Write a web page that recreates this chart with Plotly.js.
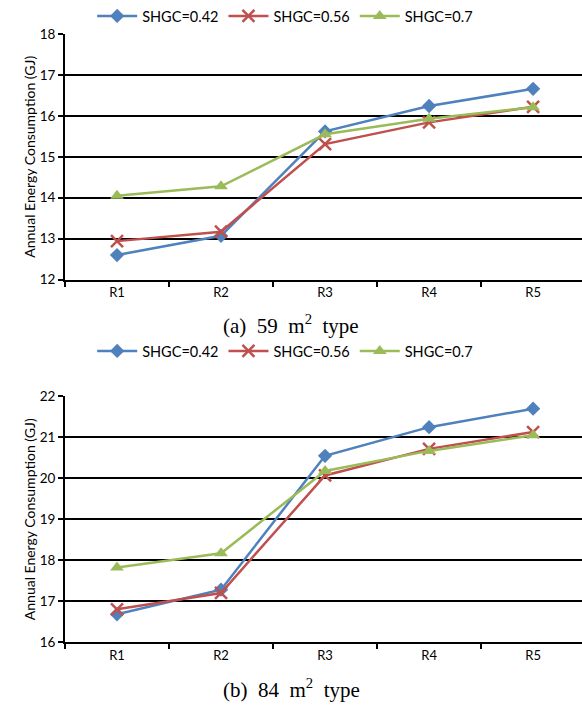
<!DOCTYPE html>
<html><head><meta charset="utf-8">
<script src="https://cdn.plot.ly/plotly-3.0.1.min.js"></script>
<style>html,body{margin:0;padding:0;overflow:hidden;background:#fff}</style>
</head><body>
<div id="chart" style="width:582px;height:708px"></div>
<script>
const categories = ['R1','R2','R3','R4','R5'];
const seriesNames = ['SHGC=0.42','SHGC=0.56','SHGC=0.7'];
// (a) 59 m2 type
const a_shgc042 = [12.60, 13.07, 15.62, 16.24, 16.66];
const a_shgc056 = [12.94, 13.17, 15.31, 15.84, 16.22];
const a_shgc070 = [14.05, 14.28, 15.55, 15.93, 16.21];
// (b) 84 m2 type
const b_shgc042 = [16.68, 17.28, 20.55, 21.25, 21.70];
const b_shgc056 = [16.80, 17.20, 20.07, 20.72, 21.13];
const b_shgc070 = [17.82, 18.17, 20.18, 20.67, 21.05];
const yTicksA = [12,13,14,15,16,17,18];
const yTicksB = [16,17,18,19,20,21,22];

const colors = ['#4F81BD','#C0504D','#9BBB59'];
const symbols = ['diamond','x-thin-open','triangle-up'];
const msizes = [11,12,12];

function mk(y, i, xa, ya, leg) {
  return {
    x: categories, y: y, type: 'scatter', mode: 'lines+markers',
    name: seriesNames[i], xaxis: xa, yaxis: ya, legend: leg,
    line: {color: colors[i], width: 2.5},
    marker: {symbol: symbols[i], size: msizes[i], color: colors[i],
             line: {color: colors[i], width: i===1 ? 2.5 : 0}}
  };
}
const data = [
  mk(a_shgc042,0,'x','y','legend'), mk(a_shgc056,1,'x','y','legend'), mk(a_shgc070,2,'x','y','legend'),
  mk(b_shgc042,0,'x2','y2','legend2'), mk(b_shgc056,1,'x2','y2','legend2'), mk(b_shgc070,2,'x2','y2','legend2')
];
const fam = 'Lato, "Open Sans", sans-serif';
const tickFont = {family:fam, size:13.5, color:'#000'};
function xax(anchor, domain){
  return {anchor: anchor, domain: domain, type:'category', range:[-0.5,4.47],
    showgrid:false, showline:true, linecolor:'#000', linewidth:2,
    ticks:'outside', tickson:'boundaries', ticklen:5, tickcolor:'#000', tickwidth:2,
    tickfont:{family:fam, size:13, color:'#000'}, fixedrange:true};
}
function yax(anchor, domain, range, tv){
  return {anchor: anchor, domain: domain, range: range, tickvals: tv,
    showgrid:true, gridcolor:'#000', gridwidth:2, zeroline:false,
    showline:true, linecolor:'#000', linewidth:2,
    ticks:'outside', ticklen:5, tickcolor:'#000', tickwidth:2,
    tickfont: tickFont,
    title:{text:'Annual Energy Consumption (GJ)', font:{family:fam, size:14, color:'#000'}, standoff:1}};
}
const H = 708, W = 582;
const xd = [65/W, 1];
const yA = [1-279/H, 1-33/H];
const yB = [1-642/H, 1-396/H];
const legFont = {family:fam, size:14.5, color:'#000'};
const capFont = {family:'"Liberation Serif", "Times New Roman", serif', size:21, color:'#000'};
const layout = {
  width: W, height: H, margin:{l:0,r:0,t:0,b:0},
  paper_bgcolor:'#fff', plot_bgcolor:'#fff', showlegend:true,
  xaxis: xax('y', xd), yaxis: yax('x', yA, [12,18], yTicksA),
  xaxis2: xax('y2', xd), yaxis2: yax('x2', yB, [16,22], yTicksB),
  legend: {orientation:'h', x:0.49, xanchor:'center', y:1-15/H, yanchor:'middle', font:legFont, bgcolor:'rgba(0,0,0,0)', itemwidth:40},
  legend2: {orientation:'h', x:0.49, xanchor:'center', y:1-351/H, yanchor:'middle', font:legFont, bgcolor:'rgba(0,0,0,0)', itemwidth:40},
  annotations: [
    {text:'(a)\u00a0\u00a059\u00a0\u00a0m<sup>2</sup>\u00a0\u00a0type', xref:'paper', yref:'paper', x:0.5, y:1-324/H, xanchor:'center', yanchor:'middle', showarrow:false, font:capFont},
    {text:'(b)\u00a0\u00a084\u00a0\u00a0m<sup>2</sup>\u00a0\u00a0type', xref:'paper', yref:'paper', x:0.5, y:1-688/H, xanchor:'center', yanchor:'middle', showarrow:false, font:capFont}
  ]
};
Plotly.newPlot('chart', data, layout, {displayModeBar:false, staticPlot:true});
</script>
</body></html>
